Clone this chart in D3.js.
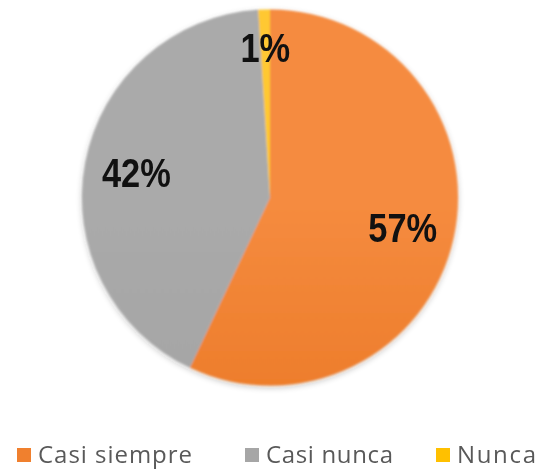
<!DOCTYPE html>
<html>
<head>
<meta charset="utf-8">
<script src="https://cdn.jsdelivr.net/npm/d3@7"></script>
<style>
  html, body { margin: 0; padding: 0; background: #ffffff; }
  svg { display: block; }
</style>
</head>
<body>
<div id="chart"></div>
<script>
// Response shares
const categories = ["Casi siempre", "Casi nunca", "Nunca"];
const values = [57, 42, 1];
const colors = ["#F0802E", "#A6A6A6", "#FFC000"];
const colorsTop = ["#F58B3F", "#AAAAAA", "#FFC832"];
const colorsBottom = ["#E66F17", "#A0A0A0", "#F5B800"];

const width = 543, height = 473;
const cx = 270, cy = 197.5, radius = 188;

const svg = d3.select("#chart").append("svg")
  .attr("width", width).attr("height", height);

const defs = svg.append("defs");

// soft edge + faint shadow around the pie
const soft = defs.append("filter").attr("id", "soft")
  .attr("x", "-10%").attr("y", "-10%").attr("width", "120%").attr("height", "120%");
soft.append("feGaussianBlur").attr("in", "SourceAlpha").attr("stdDeviation", 3).attr("result", "b");
soft.append("feOffset").attr("in", "b").attr("dy", 2).attr("result", "o");
soft.append("feComponentTransfer").attr("in", "o").attr("result", "s")
  .append("feFuncA").attr("type", "linear").attr("slope", 0.25);
soft.append("feGaussianBlur").attr("in", "SourceGraphic").attr("stdDeviation", 0.9).attr("result", "g");
const merge = soft.append("feMerge");
merge.append("feMergeNode").attr("in", "s");
merge.append("feMergeNode").attr("in", "g");

categories.forEach((c, i) => {
  const g = defs.append("linearGradient").attr("id", "grad" + i)
    .attr("gradientUnits", "userSpaceOnUse")
    .attr("x1", 0).attr("y1", cy - radius).attr("x2", 0).attr("y2", cy + radius);
  g.append("stop").attr("offset", "0%").attr("stop-color", colorsTop[i]);
  g.append("stop").attr("offset", "100%").attr("stop-color", colorsBottom[i]);
});

const data = categories.map((c, i) => ({ category: c, value: values[i], index: i }));

const pie = d3.pie().value(d => d.value).sort(null);
const arcs = pie(data);
const arc = d3.arc().innerRadius(0).outerRadius(radius);

const g = svg.append("g").attr("transform", `translate(${cx},${cy})`);

g.append("g").attr("filter", "url(#soft)")
  .selectAll("path").data(arcs).enter().append("path")
  .attr("d", arc)
  .attr("fill", d => `url(#grad${d.data.index})`);

// value labels, thin slices pushed outward a little
const total = d3.sum(values);
const labelArc = d => {
  const r = d.data.value / total < 0.05 ? 150 : 136;
  return d3.arc().innerRadius(r).outerRadius(r).centroid(d);
};

// condensed bold face, narrowed horizontally
g.selectAll("text.val").data(arcs).enter().append("text")
  .attr("class", "val")
  .attr("transform", d => {
    const p = labelArc(d);
    return `translate(${p[0]},${p[1]}) scale(0.84,1)`;
  })
  .attr("text-anchor", "middle")
  .attr("dy", "0.36em")
  .attr("font-family", "'Liberation Sans', Arial, sans-serif")
  .attr("font-weight", "bold")
  .attr("font-size", 41)
  .attr("fill", "#111111")
  .style("filter", "blur(0.4px)")
  .text(d => Math.round(d.data.value / total * 100) + "%");

// legend
const legendX = [17, 245, 436];
const legendTextWidth = [154, 127, 79];
const legend = svg.append("g").attr("class", "legend");
const item = legend.selectAll("g").data(data).enter().append("g")
  .attr("transform", (d, i) => `translate(${legendX[i]},0)`);
item.append("rect")
  .attr("x", 0).attr("y", 448).attr("width", 14).attr("height", 14)
  .attr("fill", d => colors[d.index]);
item.append("text")
  .attr("x", 21).attr("y", 463)
  .attr("font-family", "'Open Sans', Lato, sans-serif")
  .attr("font-size", 24)
  .attr("fill", "#595959")
  .attr("textLength", d => legendTextWidth[d.index])
  .attr("lengthAdjust", "spacing")
  .style("filter", "blur(0.4px)")
  .text(d => d.category);
</script>
</body>
</html>
